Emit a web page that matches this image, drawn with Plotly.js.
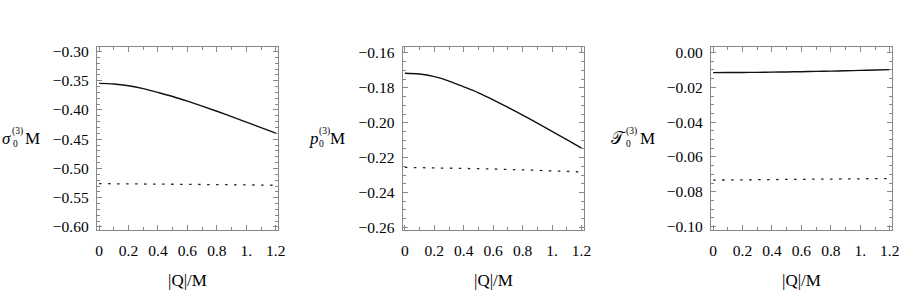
<!DOCTYPE html>
<html>
<head>
<meta charset="utf-8">
<script src="https://cdn.plot.ly/plotly-3.0.1.min.js"></script>
<style>html,body{margin:0;padding:0;background:#fff;}#chart{width:899px;height:308px;}</style>
</head>
<body>
<div id="chart"></div>
<script>
// ---- data ----
const qSolid = [0, 0.1, 0.2, 0.3, 0.4, 0.5, 0.6, 0.7, 0.8, 0.9, 1.0, 1.1, 1.2];
const sigmaSolid = [-0.3545, -0.3555, -0.3586, -0.3635, -0.3700, -0.3770, -0.3850, -0.3935, -0.4022, -0.4113, -0.4207, -0.4302, -0.4397];
const pSolid = [-0.1716, -0.1721, -0.1736, -0.1761, -0.1794, -0.1829, -0.1869, -0.1912, -0.1956, -0.2002, -0.2049, -0.2097, -0.2145];
const tSolid = [-0.0115, -0.01148, -0.01143, -0.01135, -0.01125, -0.01112, -0.01098, -0.01082, -0.01064, -0.01045, -0.01024, -0.01002, -0.0098];

const qDashed = [0, 0.2, 0.4, 0.6, 0.8, 1.0, 1.2];
const sigmaDashed = [-0.5259, -0.5261, -0.5264, -0.5268, -0.5273, -0.5280, -0.5287];
const pDashed = [-0.2256, -0.2258, -0.2261, -0.2265, -0.2270, -0.2276, -0.2282];
const tDashed = [-0.0733, -0.0732, -0.0731, -0.0729, -0.0727, -0.0726, -0.0724];

const xTickVals = [0, 0.2, 0.4, 0.6, 0.8, 1.0, 1.2];
const xTickText = ["0", "0.2", "0.4", "0.6", "0.8", "1.", "1.2"];
const sigmaTickVals = [-0.60, -0.55, -0.50, -0.45, -0.40, -0.35, -0.30];
const sigmaTickText = ["\u22120.60", "\u22120.55", "\u22120.50", "\u22120.45", "\u22120.40", "\u22120.35", "\u22120.30"];
const pTickVals = [-0.26, -0.24, -0.22, -0.20, -0.18, -0.16];
const pTickText = ["\u22120.26", "\u22120.24", "\u22120.22", "\u22120.20", "\u22120.18", "\u22120.16"];
const tTickVals = [-0.10, -0.08, -0.06, -0.04, -0.02, 0.00];
const tTickText = ["\u22120.10", "\u22120.08", "\u22120.06", "\u22120.04", "\u22120.02", "0.00"];
const xTitle = "|Q|/M";

// ---- layout helpers ----
const W = 899, H = 308;
const px = v => v / W;
const py = v => 1 - v / H;
const FONT = "Liberation Serif";
const frames = [[96.75, 278.25], [402.5, 584], [710.75, 892.25]];
const yTop = 46.5, yBot = 229.5;

function xaxis(i, anchor) {
  return {
    domain: [px(frames[i][0]), px(frames[i][1])], anchor: anchor,
    range: [-0.016, 1.217], tickmode: "array", tickvals: xTickVals, ticktext: xTickText,
    ticks: "inside", ticklen: 5, tickcolor: "#888", tickwidth: 1,
    minor: {tickmode: "linear", tick0: 0, dtick: 0.1, ticklen: 3, tickcolor: "#888", ticks: "inside"},
    showline: true, linecolor: "#888", linewidth: 1, mirror: "allticks",
    showgrid: false, zeroline: false, ticklabelstandoff: 7, ticklabeloverflow: "allow",
    tickfont: {family: FONT, size: 15.5, color: "#000"}, fixedrange: true
  };
}
function yaxis(anchor, range, vals, text, minorD) {
  return {
    domain: [py(yBot), py(yTop)], anchor: anchor, range: range,
    tickmode: "array", tickvals: vals, ticktext: text,
    ticks: "inside", ticklen: 5, tickcolor: "#888", tickwidth: 1,
    minor: {tickmode: "linear", tick0: 0, dtick: minorD, ticklen: 3, tickcolor: "#888", ticks: "inside"},
    showline: true, linecolor: "#888", linewidth: 1, mirror: "allticks",
    showgrid: false, zeroline: false, ticklabelstandoff: 4, ticklabeloverflow: "allow",
    tickfont: {family: FONT, size: 15.5, color: "#000"}, fixedrange: true
  };
}

const solid = {color: "#111", width: 1.4};
const dashed = {color: "#222", width: 1.3, dash: "2.5px,6.5px"};
const traces = [
  {x: qSolid, y: sigmaSolid, xaxis: "x", yaxis: "y", mode: "lines", line: Object.assign({shape: "spline"}, solid)},
  {x: qDashed, y: sigmaDashed, xaxis: "x", yaxis: "y", mode: "lines", line: dashed},
  {x: qSolid, y: pSolid, xaxis: "x2", yaxis: "y2", mode: "lines", line: Object.assign({shape: "spline"}, solid)},
  {x: qDashed, y: pDashed, xaxis: "x2", yaxis: "y2", mode: "lines", line: dashed},
  {x: qSolid, y: tSolid, xaxis: "x3", yaxis: "y3", mode: "lines", line: Object.assign({shape: "spline"}, solid)},
  {x: qDashed, y: tDashed, xaxis: "x3", yaxis: "y3", mode: "lines", line: dashed}
];

// y-axis label pieces (symbol, stacked sub/superscript, M)
function label(sym, R, symOff, supOff, subOff) {
  const base = 144;
  const big = {family: FONT, size: 17, color: "#000"};
  const small = {family: FONT, size: 9.5, color: "#000"};
  const mk = (text, x, xa, yc, font) => ({text: text, x: px(x), y: py(yc), xref: "paper", yref: "paper",
    xanchor: xa, yanchor: "middle", showarrow: false, font: font, borderpad: 0});
  return [
    mk(sym, R - symOff, "left", base - 5.7, big),
    mk("(3)", R - supOff, "left", 131.7, small),
    mk("0", R - subOff, "left", 144.5, small),
    mk("M", R, "right", base - 5.7, big)
  ];
}
let annotations = [];
annotations = annotations.concat(label("<i>σ</i>", 40.5, 40, 30, 29));
annotations = annotations.concat(label("<i>p</i>", 346, 38.5, 28.5, 28));
annotations = annotations.concat(label("𝒯", 655.5, 45.5, 31, 31));
frames.forEach(f => {
  annotations.push({text: xTitle, x: px((f[0] + f[1]) / 2), y: py(280), xref: "paper", yref: "paper",
    xanchor: "center", yanchor: "middle", showarrow: false, font: {family: FONT, size: 17, color: "#000"}});
});

const layout = {
  width: W, height: H, margin: {l: 0, r: 0, t: 0, b: 0},
  paper_bgcolor: "#fff", plot_bgcolor: "#fff", showlegend: false,
  xaxis: xaxis(0, "y"), xaxis2: xaxis(1, "y2"), xaxis3: xaxis(2, "y3"),
  yaxis: yaxis("x", [-0.6043, -0.2915], sigmaTickVals, sigmaTickText, 0.01),
  yaxis2: yaxis("x2", [-0.2612, -0.1563], pTickVals, pTickText, 0.005),
  yaxis3: yaxis("x3", [-0.1017, 0.0035], tTickVals, tTickText, 0.005),
  annotations: annotations
};
Plotly.newPlot("chart", traces, layout, {staticPlot: true, displayModeBar: false});
</script>
</body>
</html>
